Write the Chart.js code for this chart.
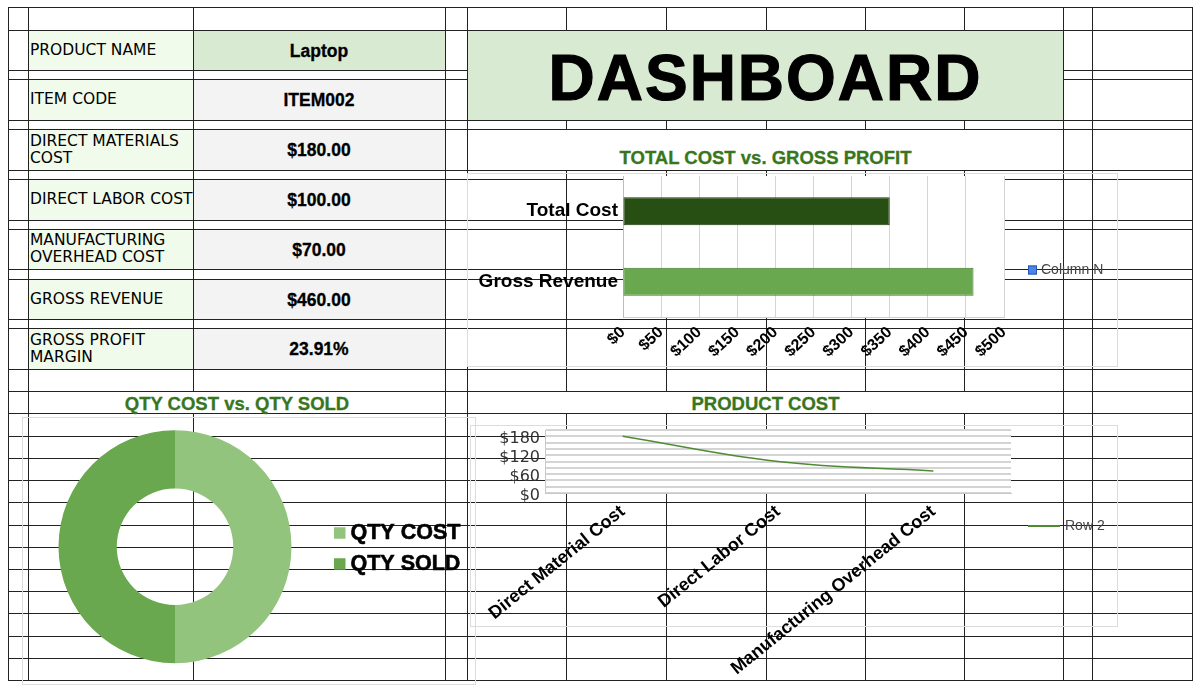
<!DOCTYPE html>
<html lang="en">
<head>
<meta charset="utf-8">
<title>Dashboard</title>
<script src="https://cdn.jsdelivr.net/npm/chart.js@4.4.1/dist/chart.umd.min.js"></script>
<style>
    html, body { margin: 0; padding: 0; background: #ffffff; }
    #sheet { position: relative; width: 1200px; height: 688px; overflow: hidden; font-family: 'Liberation Sans', Arial, sans-serif; color: #000; }
    #grid div { position: absolute; }
    .line { background: #222; }
    .merged { box-sizing: border-box; border: 1px solid #222; background: #fff; display: flex; align-items: center; justify-content: center; }
    .label { left: 30px; width: 163px; display: flex; align-items: center; font-family: 'DejaVu Sans', sans-serif; font-size: 15.5px; line-height: 17px; white-space: nowrap; }
    .value { left: 193px; width: 252px; display: flex; align-items: center; justify-content: center; font-weight: bold; font-size: 17.5px; -webkit-text-stroke: 0.3px #000; }
    .title { color: #38761d; font-weight: bold; font-size: 18.5px; white-space: nowrap; -webkit-text-stroke: 0.3px #38761d; }
    .chart-box { box-sizing: border-box; border: 1px solid #dcdcdc; }
    canvas { position: absolute; }
</style>
</head>
<body>
<div id="sheet">
    <div id="grid"></div>
    <canvas id="qtyChart" width="454" height="268" style="left:22px;top:417px"></canvas>
    <canvas id="profitChart" width="651" height="194" style="left:467px;top:173px"></canvas>
    <canvas id="productChart" width="648" height="263" style="left:470px;top:425px"></canvas>
</div>
<script>
// Sheet data
const infoLabels = ['PRODUCT NAME', 'ITEM CODE', 'DIRECT MATERIALS<br>COST', 'DIRECT LABOR COST',
    'MANUFACTURING<br>OVERHEAD COST', 'GROSS REVENUE', 'GROSS PROFIT<br>MARGIN'];
const infoValues = ['Laptop', 'ITEM002', '$180.00', '$100.00', '$70.00', '$460.00', '23.91%'];

// TOTAL COST vs. GROSS PROFIT
const profitLabels = ['Total Cost', 'Gross Revenue'];
const profitValues = [350, 460];
const profitSeries = 'Column N';

// QTY COST vs. QTY SOLD
const qtyLabels = ['QTY COST', 'QTY SOLD'];
const qtyValues = [50, 50];

// PRODUCT COST
const productLabels = ['Direct Material Cost', 'Direct Labor Cost', 'Manufacturing Overhead Cost'];
const productValues = [180, 100, 70];
const productSeries = 'Row 2';

// Colours
const profitColors = ['#274e13', '#6aa84f'];
const profitBorders = ['#1b3a0c', '#3d7a29'];
const qtyColors = ['#93c47d', '#6aa84f'];
const productColor = '#4f8b34';

const FONT = "'Liberation Sans', Arial, sans-serif";

// ============================================
// Spreadsheet grid
// ============================================
const colX = [8, 28, 193, 445, 467, 566, 666, 766, 865, 964, 1063, 1092, 1192];
const rowY = [7, 30, 70, 79, 120, 129, 170, 179, 220, 229, 269, 279, 319, 328, 369,
    391, 413, 436, 458, 480, 502, 525, 547, 569, 591, 613, 636, 658, 680];
const infoRows = [[30, 70], [79, 120], [129, 170], [179, 220], [229, 269], [279, 319], [328, 369]];

const grid = document.getElementById('grid');

function addDiv(cls, css, html) {
    const d = document.createElement('div');
    d.className = cls;
    Object.assign(d.style, css);
    if (html) d.innerHTML = html;
    grid.appendChild(d);
    return d;
}

// cell fills go under the lines
infoRows.forEach(([top, bottom], i) => {
    addDiv('', { left: '29px', top: top + 1 + 'px', width: '164px', height: bottom - top - 1 + 'px', background: '#f0fbeb' });
    addDiv('', { left: '194px', top: top + 1 + 'px', width: '251px', height: bottom - top - 1 + 'px', background: i === 0 ? '#d9ead3' : '#f3f3f3' });
});

rowY.forEach(y => addDiv('line', { left: '8px', top: y + 'px', width: '1185px', height: '1px' }));
colX.forEach(x => addDiv('line', { left: x + 'px', top: '7px', width: '1px', height: '674px' }));

// merged cells
function merged(x1, y1, x2, y2, html, extra) {
    return addDiv('merged', Object.assign({ left: x1 + 'px', top: y1 + 'px', width: (x2 - x1 + 1) + 'px', height: (y2 - y1 + 1) + 'px' }, extra || {}), html);
}

merged(467, 30, 1063, 120,
    '<span style="font-size:64px;font-weight:bold;letter-spacing:2px;-webkit-text-stroke:1.2px #000;padding-top:5px">DASHBOARD</span>',
    { background: '#d9ead3' });
merged(467, 129, 1063, 170, '<span class="title" style="padding-top:16px">TOTAL COST vs. GROSS PROFIT</span>');
merged(28, 391, 445, 413, '<span class="title" style="padding-top:2px">QTY COST vs. QTY SOLD</span>');
merged(467, 391, 1063, 413, '<span class="title" style="padding-top:2px">PRODUCT COST</span>');

// info table text
infoRows.forEach(([top, bottom], i) => {
    addDiv('label', { top: top + 'px', height: bottom - top + 'px' }, infoLabels[i]);
    addDiv('value', { top: top + 1 + 'px', height: bottom - top + 'px' }, infoValues[i]);
});

// chart frames
addDiv('chart-box', { left: '22px', top: '417px', width: '454px', height: '268px' });
addDiv('chart-box', { left: '467px', top: '173px', width: '651px', height: '194px' });
addDiv('chart-box', { left: '470px', top: '425px', width: '648px', height: '202px' });

// ============================================
// Chart helpers
// ============================================
const plotBackground = {
    id: 'plotBackground',
    beforeDraw(chart) {
        const { ctx, chartArea: a } = chart;
        ctx.save();
        ctx.fillStyle = '#ffffff';
        ctx.fillRect(a.left, a.top, a.right - a.left, a.bottom - a.top);
        ctx.restore();
    }
};

function makeLegend(cfg) {
    return {
        id: 'sideLegend',
        afterDraw(chart) {
            const ctx = chart.ctx;
            ctx.save();
            ctx.font = cfg.font;
            ctx.textBaseline = 'middle';
            cfg.items.forEach((item, i) => {
                const y = cfg.y + i * (cfg.gap || 0);
                if (cfg.marker === 'line') {
                    ctx.strokeStyle = item.color;
                    ctx.lineWidth = 2;
                    ctx.beginPath();
                    ctx.moveTo(cfg.x, y);
                    ctx.lineTo(cfg.x + cfg.size, y);
                    ctx.stroke();
                } else {
                    ctx.fillStyle = item.color;
                    ctx.fillRect(cfg.x, y - cfg.size / 2, cfg.size, cfg.size);
                    if (item.border) {
                        ctx.strokeStyle = item.border;
                        ctx.lineWidth = 1;
                        ctx.strokeRect(cfg.x + 0.5, y - cfg.size / 2 + 0.5, cfg.size - 1, cfg.size - 1);
                    }
                }
                const tx = cfg.x + cfg.size + cfg.space;
                ctx.fillStyle = cfg.color;
                ctx.fillText(item.text, tx, y);
                if (cfg.stroke) {
                    ctx.strokeStyle = cfg.color;
                    ctx.lineWidth = cfg.stroke;
                    ctx.strokeText(item.text, tx, y);
                }
            });
            ctx.restore();
        }
    };
}

// keep vertical axis labels from pushing the plot area down
function noVerticalPadding(s) {
    s.paddingTop = 0;
    s.paddingBottom = 0;
}

const noLegend = { legend: { display: false }, tooltip: { enabled: false } };

// ============================================
// TOTAL COST vs. GROSS PROFIT (horizontal bars)
// ============================================
new Chart(document.getElementById('profitChart'), {
    type: 'bar',
    data: {
        labels: profitLabels,
        datasets: [{
            label: profitSeries,
            data: profitValues,
            backgroundColor: profitColors,
            borderColor: profitBorders,
            borderWidth: 1,
            borderSkipped: false,
            barPercentage: 0.4,
            categoryPercentage: 1
        }]
    },
    options: {
        indexAxis: 'y',
        responsive: false,
        animation: false,
        layout: { padding: { top: 3, right: 114, left: 0, bottom: 0 } },
        plugins: noLegend,
        scales: {
            x: {
                min: 0,
                max: 500,
                grid: { color: '#d5d5d5', drawTicks: false },
                border: { color: '#cfcfcf' },
                ticks: {
                    stepSize: 50,
                    autoSkip: false,
                    minRotation: 43,
                    maxRotation: 43,
                    padding: 6,
                    color: '#000',
                    font: { family: FONT, size: 16, weight: 'bold' },
                    callback: v => '$' + v
                },
                afterFit: s => { s.height = 50; }
            },
            y: {
                grid: { display: false, drawTicks: false },
                border: { color: '#bdbdbd' },
                ticks: { padding: 5, color: '#000', font: { family: FONT, size: 19, weight: 'bold' } },
                afterFit: s => { s.width = 156; noVerticalPadding(s); }
            }
        }
    },
    plugins: [plotBackground, makeLegend({
        x: 561, y: 97, size: 9, space: 4, marker: 'box',
        font: '14px ' + FONT, color: '#444',
        items: [{ text: profitSeries, color: '#4a86e8', border: '#2456b4' }]
    })]
});

// ============================================
// QTY COST vs. QTY SOLD (doughnut)
// ============================================
new Chart(document.getElementById('qtyChart'), {
    type: 'doughnut',
    data: {
        labels: qtyLabels,
        datasets: [{ data: qtyValues, backgroundColor: qtyColors, borderWidth: 0 }]
    },
    options: {
        responsive: false,
        animation: false,
        cutout: '50%',
        layout: { padding: { left: 36.5, top: 13.2, right: 184.5, bottom: 21.8 } },
        plugins: noLegend
    },
    plugins: [makeLegend({
        x: 312, y: 116, gap: 31, size: 11.5, space: 5, marker: 'box',
        font: 'bold 21.5px ' + FONT, color: '#000', stroke: 0.6,
        items: qtyLabels.map((t, i) => ({ text: t, color: qtyColors[i] }))
    })]
});

// ============================================
// PRODUCT COST (line)
// ============================================
new Chart(document.getElementById('productChart'), {
    type: 'line',
    data: {
        labels: productLabels,
        datasets: [{
            label: productSeries,
            data: productValues,
            borderColor: productColor,
            borderWidth: 1.6,
            tension: 0.4,
            pointRadius: 0,
            fill: false
        }]
    },
    options: {
        responsive: false,
        animation: false,
        layout: { padding: { top: 5, right: 107, left: 0, bottom: 0 } },
        plugins: noLegend,
        scales: {
            x: {
                offset: true,
                grid: { display: false, drawTicks: false },
                border: { color: '#c8c8c8' },
                ticks: {
                    autoSkip: false,
                    minRotation: 39,
                    maxRotation: 39,
                    padding: 8,
                    color: '#000',
                    font: { family: FONT, size: 18, weight: 'bold' }
                },
                afterFit: s => { s.height = 195; }
            },
            y: {
                min: 0,
                max: 200,
                grid: { color: '#d4d4d4', lineWidth: 2, drawTicks: false },
                border: { color: '#c8c8c8' },
                ticks: {
                    stepSize: 20,
                    autoSkip: false,
                    padding: 5,
                    labelOffset: 2.5,
                    color: '#333',
                    font: { family: "'DejaVu Sans', sans-serif", size: 16 },
                    callback: v => (v % 60 === 0 ? '$' + v : '')
                },
                afterFit: s => { s.width = 75; noVerticalPadding(s); }
            }
        }
    },
    plugins: [plotBackground, makeLegend({
        x: 558, y: 101, size: 32, space: 5, marker: 'line',
        font: '14px ' + FONT, color: '#444',
        items: [{ text: productSeries, color: productColor }]
    })]
});
</script>
</body>
</html>
